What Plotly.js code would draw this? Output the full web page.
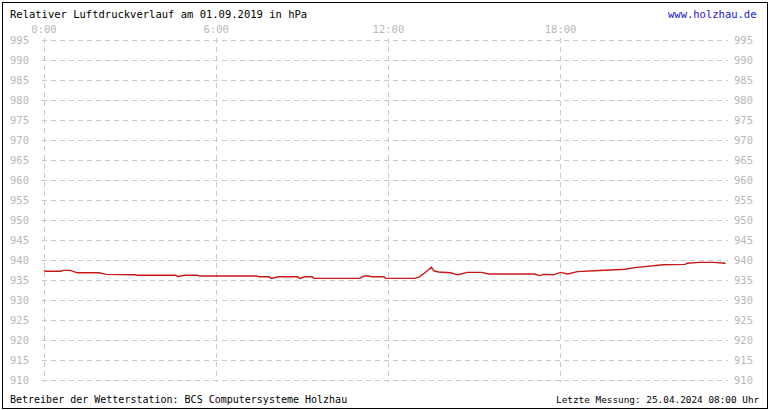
<!DOCTYPE html>
<html>
<head>
<meta charset="utf-8">
<script src="https://cdn.plot.ly/plotly-3.0.1.min.js"></script>
<style>
  body { margin: 0; background: #fff; }
  #chart { width: 770px; height: 410px; }
  #frame { position: absolute; left: 2px; top: 2px; width: 764px; height: 405px; border: 1px solid #000; pointer-events: none; }
</style>
</head>
<body>
<div id="chart"></div>
<div id="frame"></div>
<script>
// pressure readings for 01.09.2019
const day = "2019-09-01";
const times = ["00:00","00:05","00:35","00:40","00:55","01:00","01:10","01:55","02:10","03:10",
  "03:15","04:35","04:40","04:55","05:20","05:25","07:25","07:30","07:50","07:55",
  "08:10","08:50","08:55","09:05","09:20","09:25","11:00","11:05","11:10","11:20",
  "11:25","11:50","11:55","12:55","13:05","13:15","13:30","13:35","13:45","14:10",
  "14:25","14:45","15:15","15:30","17:05","17:15","17:25","17:45","18:00","18:15",
  "18:35","19:10","19:35","20:15","20:35","21:10","21:35","22:20","22:25","22:50",
  "23:20","23:45"];
const pressure = [937.3,937.2,937.2,937.4,937.4,937.2,936.8,936.8,936.4,936.3,
  936.2,936.2,935.9,936.2,936.2,936.0,936.0,935.8,935.8,935.4,
  935.8,935.8,935.4,935.8,935.8,935.4,935.4,935.8,936.0,936.0,
  935.8,935.8,935.4,935.4,935.8,936.7,938.2,937.3,937.0,936.8,
  936.3,936.9,936.9,936.5,936.5,936.1,936.4,936.3,936.9,936.5,
  937.1,937.3,937.5,937.7,938.1,938.6,938.8,938.9,939.2,939.4,
  939.4,939.2];
const hourTicks = ["00:00","06:00","12:00","18:00"];
const hourLabels = ["0:00","6:00","12:00","18:00"];
const yTicks = [910,915,920,925,930,935,940,945,950,955,960,965,970,975,980,985,990,995];

const titleText = "Relativer Luftdruckverlauf am 01.09.2019 in hPa";
const siteText = "www.holzhau.de";
const footLeft = "Betreiber der Wetterstation: BCS Computersysteme Holzhau";
const footRight = "Letzte Messung: 25.04.2024 08:00 Uhr";

const mono = "DejaVu Sans Mono, Liberation Mono, monospace";
const gridCol = "#c8c8c8";
const tickCol = "#b8b8b8";

const xs = times.map(t => day + " " + t);

const trace = {
  x: xs,
  y: pressure,
  type: "scatter",
  mode: "lines",
  line: { color: "#c81818", width: 1.4 },
  hoverinfo: "skip"
};
const ghost = { x: [], y: [], yaxis: "y2", type: "scatter", mode: "lines", showlegend: false };

const yCommon = {
  range: [909.5, 995.5],
  tickvals: yTicks,
  ticktext: yTicks.map(String),
  tickfont: { family: mono, size: 10.5, color: tickCol },
  zeroline: false,
  fixedrange: true
};

// plot area: 686 x 344 px, left 42, top 38
const pw = 686, ph = 344;

const layout = {
  width: 770,
  height: 410,
  margin: { l: 42, r: 42, t: 38, b: 28 },
  paper_bgcolor: "#fff",
  plot_bgcolor: "#fff",
  showlegend: false,
  font: { family: mono, size: 10.5, color: "#000" },
  xaxis: {
    type: "date",
    side: "top",
    range: ["2019-08-31 23:55:48", day + " 23:50"],
    tickvals: hourTicks.map(t => day + " " + t),
    ticktext: hourLabels,
    ticks: "",
    ticklabelstandoff: 2,
    tickfont: { family: mono, size: 10.5, color: tickCol },
    showgrid: true,
    gridcolor: gridCol,
    griddash: "5px,4px",
    gridwidth: 1,
    zeroline: false,
    showline: false
  },
  yaxis: Object.assign({}, yCommon, {
    side: "left",
    ticks: "",
    ticklabelstandoff: 12,
    showgrid: true,
    gridcolor: gridCol,
    griddash: "5px,4px",
    gridwidth: 1
  }),
  yaxis2: Object.assign({}, yCommon, {
    overlaying: "y",
    side: "right",
    matches: "y",
    ticks: "",
    ticklabelstandoff: 5,
    showgrid: false
  }),
  annotations: [
    { text: titleText, xref: "paper", yref: "paper", x: -34 / pw, y: 1 + 24 / ph,
      xanchor: "left", yanchor: "middle", showarrow: false,
      font: { family: mono, size: 10.5, color: "#000" } },
    { text: siteText, xref: "paper", yref: "paper", x: 1 + 31 / pw, y: 1 + 24 / ph,
      xanchor: "right", yanchor: "middle", showarrow: false,
      font: { family: mono, size: 10.5, color: "#1a1acc" } },
    { text: footLeft, xref: "paper", yref: "paper", x: -34 / pw, y: -17 / ph,
      xanchor: "left", yanchor: "middle", showarrow: false,
      font: { family: mono, size: 10, color: "#000" } },
    { text: footRight, xref: "paper", yref: "paper", x: 1 + 34 / pw, y: -17 / ph,
      xanchor: "right", yanchor: "middle", showarrow: false,
      font: { family: mono, size: 9.4, color: "#000" } }
  ]
};

Plotly.newPlot("chart", [trace, ghost], layout, { displayModeBar: false, staticPlot: true });
</script>
</body>
</html>
